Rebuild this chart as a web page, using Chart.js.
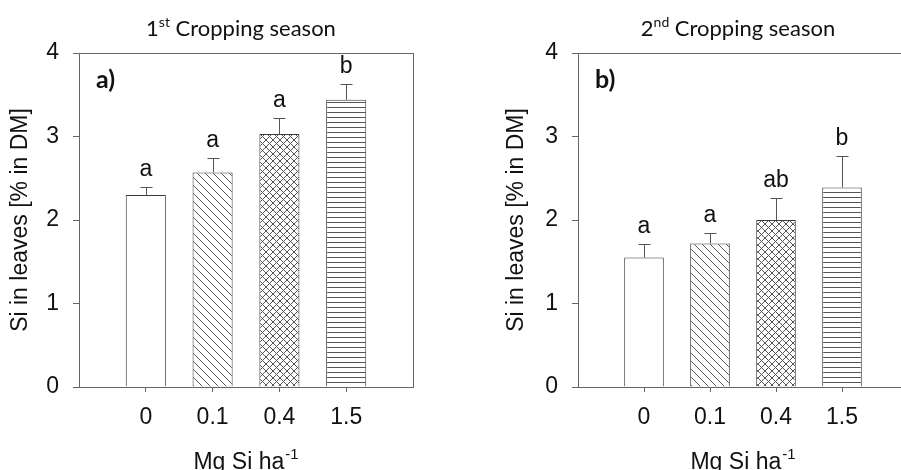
<!DOCTYPE html>
<html>
<head>
<meta charset="utf-8">
<title>Si in leaves</title>
<script src="https://cdn.jsdelivr.net/npm/chart.js@4.4.0/dist/chart.umd.min.js"></script>
<style>
  html, body { margin: 0; padding: 0; background: #fff; overflow: hidden; width: 901px; height: 470px; }
  #left { position: absolute; left: 0; top: 0; }
  #right { position: absolute; left: 450px; top: 0; }
</style>
</head>
<body>
<canvas id="left" width="450" height="470"></canvas>
<canvas id="right" width="470" height="470"></canvas>
<script>
// Si content in leaves (% in DM) per Si dose, mean and SE
const doses = ['0', '0.1', '0.4', '1.5'];
const yTicks = [0, 1, 2, 3, 4];

const season1 = [2.30, 2.57, 3.03, 3.44];
const season1Se = [0.10, 0.17, 0.19, 0.19];
const season1Letters = ['a', 'a', 'a', 'b'];

const season2 = [1.55, 1.72, 2.00, 2.39];
const season2Se = [0.16, 0.12, 0.26, 0.38];
const season2Letters = ['a', 'a', 'ab', 'b'];

const SANS = '"Liberation Sans", Arial, sans-serif';
const CAL = 'Lato, "Open Sans", sans-serif';

Chart.defaults.font.family = SANS;
Chart.defaults.color = '#111';

// hatch fills for the bars
function hatch(kind) {
  if (kind === 'plain') return '#ffffff';
  const c = document.createElement('canvas');
  const g = c.getContext('2d');
  const s = kind === 'lines' ? 5 : (kind === 'cross' ? 7 : 8);
  c.width = kind === 'lines' ? 4 : s;
  c.height = s;
  g.fillStyle = '#fff';
  g.fillRect(0, 0, c.width, c.height);
  g.strokeStyle = '#555';
  g.lineWidth = 1;
  g.beginPath();
  if (kind === 'lines') {
    g.moveTo(0, 2.5);
    g.lineTo(c.width, 2.5);
  } else {
    g.moveTo(-1, -1); g.lineTo(s + 1, s + 1);
    g.moveTo(s - 1, -1); g.lineTo(s + 1, 1);
    g.moveTo(-1, s - 1); g.lineTo(1, s + 1);
    if (kind === 'cross') {
      g.moveTo(s + 1, -1); g.lineTo(-1, s + 1);
      g.moveTo(1, -1); g.lineTo(-1, 1);
      g.moveTo(s + 1, s - 1); g.lineTo(s - 1, s + 1);
    }
  }
  g.stroke();
  return g.createPattern(c, 'repeat');
}

const fills = [hatch('plain'), hatch('diag'), hatch('cross'), hatch('lines')];

// error bars, letters, frame, titles
const panelDecor = {
  id: 'panelDecor',
  afterDatasetsDraw(chart, args, opts) {
    const { ctx, chartArea: a, scales: { y } } = chart;
    const meta = chart.getDatasetMeta(0);
    ctx.save();

    ctx.strokeStyle = '#555';
    ctx.lineWidth = 1;
    opts.values.forEach((v, i) => {
      const bar = meta.data[i + 1];
      const px = Math.round(bar.x) + 0.5;
      const y0 = y.getPixelForValue(v);
      const y1 = Math.round(y.getPixelForValue(v + opts.se[i])) + 0.5;
      ctx.beginPath();
      ctx.moveTo(px, y0);
      ctx.lineTo(px, y1);
      ctx.moveTo(px - 6, y1);
      ctx.lineTo(px + 6, y1);
      ctx.stroke();

      ctx.fillStyle = '#111';
      ctx.font = '23px ' + SANS;
      ctx.textAlign = 'center';
      ctx.textBaseline = 'alphabetic';
      ctx.fillText(opts.letters[i], bar.x, y1 - 12);
    });

    // box round the plot
    ctx.strokeStyle = '#666';
    ctx.strokeRect(Math.round(a.left) + 0.5, Math.round(a.top) + 0.5,
      Math.round(a.right - a.left), Math.round(a.bottom - a.top));

    // panel tag
    ctx.fillStyle = '#111';
    ctx.font = 'bold 25px ' + CAL;
    ctx.textAlign = 'left';
    ctx.fillText(opts.tag, a.left + 17, 88);

    const cx = (a.left + a.right) / 2;

    // season title with ordinal superscript
    const big = '22px ' + CAL, small = '14px ' + CAL;
    ctx.font = big;
    const w1 = ctx.measureText(opts.num).width;
    const w3 = ctx.measureText(' Cropping season').width;
    ctx.font = small;
    const w2 = ctx.measureText(opts.sup).width;
    let tx = cx - 5 - (w1 + w2 + w3) / 2;
    ctx.font = big;
    ctx.fillText(opts.num, tx, 36);
    ctx.font = small;
    ctx.fillText(opts.sup, tx + w1, 27);
    ctx.font = big;
    ctx.fillText(' Cropping season', tx + w1 + w2, 36);

    // x axis title, Mg Si ha^-1
    const xs = 'Mg Si ha';
    ctx.font = '23px ' + SANS;
    const wa = ctx.measureText(xs).width;
    ctx.font = '15px ' + SANS;
    const wb = ctx.measureText('-1').width;
    tx = cx - (wa + wb + 1) / 2;
    ctx.font = '23px ' + SANS;
    ctx.fillText(xs, tx, 469);
    ctx.font = '15px ' + SANS;
    ctx.fillText('-1', tx + wa + 1, 459);

    ctx.restore();
  }
};

function makePanel(id, values, se, letters, tag, num, sup, padLeft, padRight, titlePad) {
  new Chart(document.getElementById(id), {
    type: 'bar',
    data: {
      labels: ['', ...doses, ''],
      datasets: [{
        data: [null, ...values, null],
        backgroundColor: ['#fff', ...fills, '#fff'],
        borderColor: '#3a3a3a',
        borderWidth: 1,
        categoryPercentage: 1,
        barPercentage: 0.6
      }]
    },
    options: {
      responsive: false,
      animation: false,
      events: [],
      layout: { padding: { left: padLeft, right: padRight, top: 53, bottom: 0 } },
      plugins: {
        legend: { display: false },
        tooltip: { enabled: false },
        panelDecor: { values, se, letters, tag, num, sup }
      },
      scales: {
        x: {
          offset: false,
          grid: {
            offset: false,
            drawOnChartArea: false,
            tickLength: 5,
            tickColor: ctx => (ctx.index === 0 || ctx.index === doses.length + 1) ? 'rgba(0,0,0,0)' : '#666'
          },
          border: { color: '#666' },
          ticks: { font: { size: 23 }, color: '#111', padding: 12, maxRotation: 0, autoSkip: false },
          afterFit: s => { s.height = 83; }
        },
        y: {
          min: 0,
          max: 4,
          afterBuildTicks: s => { s.ticks = yTicks.map(v => ({ value: v })); },
          grid: { drawOnChartArea: false, tickLength: 6, tickColor: '#666' },
          border: { color: '#666' },
          ticks: { font: { size: 23 }, color: '#111', padding: 14 },
          title: {
            display: true,
            text: 'Si in leaves [% in DM]',
            font: { size: 23 },
            color: '#111',
            padding: { top: titlePad, bottom: 0 }
          },
          afterFit: s => { s.width = 79; }
        }
      }
    },
    plugins: [panelDecor]
  });
}

makePanel('left', season1, season1Se, season1Letters, 'a)', '1', 'st', 0, 37, 7);
makePanel('right', season2, season2Se, season2Letters, 'b)', '2', 'nd', 49, 8, 4);
</script>
</body>
</html>
